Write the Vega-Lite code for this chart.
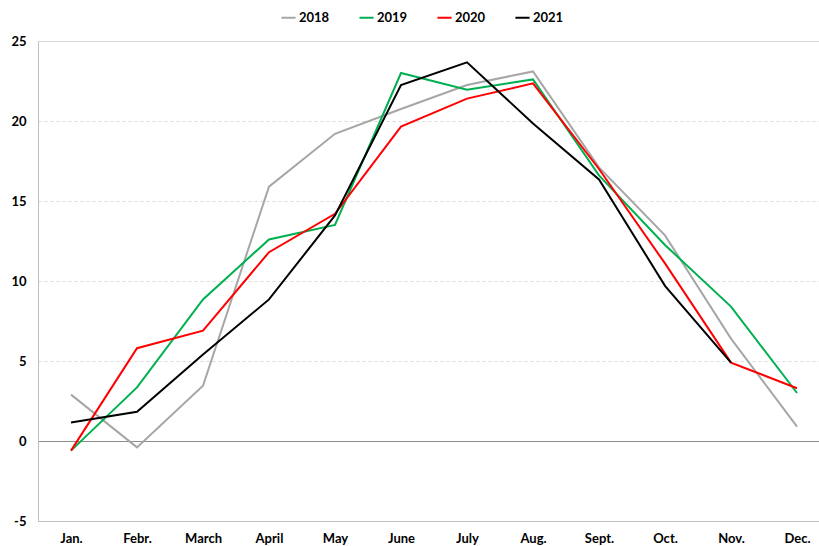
{
  "$schema": "https://vega.github.io/schema/vega-lite/v6.json",
  "autosize": "none",
  "padding": {"left": 38, "top": 41, "right": 0, "bottom": 26},
  "width": 792,
  "height": 480,
  "background": "white",
  "config": {
    "view": {"stroke": null},
    "font": "Lato",
    "axis": {"labelFont": "Lato", "labelFontWeight": "bold", "labelFontSize": 13, "labelColor": "#000000"},
    "legend": {"labelFont": "Lato", "labelFontWeight": "bold", "labelFontSize": 13, "labelColor": "#000000"}
  },
  "data": {
    "values": [
      {"month": "Jan.", "year": "2018", "temp": 2.9},
      {"month": "Febr.", "year": "2018", "temp": -0.4},
      {"month": "March", "year": "2018", "temp": 3.45},
      {"month": "April", "year": "2018", "temp": 15.9},
      {"month": "May", "year": "2018", "temp": 19.2},
      {"month": "June", "year": "2018", "temp": 20.75},
      {"month": "July", "year": "2018", "temp": 22.25},
      {"month": "Aug.", "year": "2018", "temp": 23.1},
      {"month": "Sept.", "year": "2018", "temp": 17.1},
      {"month": "Oct.", "year": "2018", "temp": 12.85},
      {"month": "Nov.", "year": "2018", "temp": 6.4},
      {"month": "Dec.", "year": "2018", "temp": 0.9},
      {"month": "Jan.", "year": "2019", "temp": -0.6},
      {"month": "Febr.", "year": "2019", "temp": 3.35},
      {"month": "March", "year": "2019", "temp": 8.85},
      {"month": "April", "year": "2019", "temp": 12.6},
      {"month": "May", "year": "2019", "temp": 13.5},
      {"month": "June", "year": "2019", "temp": 23.0},
      {"month": "July", "year": "2019", "temp": 21.95},
      {"month": "Aug.", "year": "2019", "temp": 22.6},
      {"month": "Sept.", "year": "2019", "temp": 16.6},
      {"month": "Oct.", "year": "2019", "temp": 12.25},
      {"month": "Nov.", "year": "2019", "temp": 8.4},
      {"month": "Dec.", "year": "2019", "temp": 3.0},
      {"month": "Jan.", "year": "2020", "temp": -0.6},
      {"month": "Febr.", "year": "2020", "temp": 5.8},
      {"month": "March", "year": "2020", "temp": 6.9},
      {"month": "April", "year": "2020", "temp": 11.8},
      {"month": "May", "year": "2020", "temp": 14.2},
      {"month": "June", "year": "2020", "temp": 19.65},
      {"month": "July", "year": "2020", "temp": 21.4},
      {"month": "Aug.", "year": "2020", "temp": 22.35},
      {"month": "Sept.", "year": "2020", "temp": 17.0},
      {"month": "Oct.", "year": "2020", "temp": 11.1},
      {"month": "Nov.", "year": "2020", "temp": 4.9},
      {"month": "Dec.", "year": "2020", "temp": 3.3},
      {"month": "Jan.", "year": "2021", "temp": 1.15},
      {"month": "Febr.", "year": "2021", "temp": 1.83},
      {"month": "March", "year": "2021", "temp": 5.4},
      {"month": "April", "year": "2021", "temp": 8.85},
      {"month": "May", "year": "2021", "temp": 14.1},
      {"month": "June", "year": "2021", "temp": 22.25},
      {"month": "July", "year": "2021", "temp": 23.67},
      {"month": "Aug.", "year": "2021", "temp": 19.85},
      {"month": "Sept.", "year": "2021", "temp": 16.35},
      {"month": "Oct.", "year": "2021", "temp": 9.7},
      {"month": "Nov.", "year": "2021", "temp": 4.9}
    ]
  },
  "mark": {"type": "line", "strokeWidth": 2},
  "encoding": {
    "x": {
      "field": "month",
      "type": "ordinal",
      "sort": ["Jan.", "Febr.", "March", "April", "May", "June", "July", "Aug.", "Sept.", "Oct.", "Nov.", "Dec."],
      "scale": {"type": "point", "padding": 0.5},
      "axis": {"title": null, "labelAngle": 0, "ticks": false, "domain": true, "domainColor": "#BFBFBF", "domainWidth": 1, "labelPadding": 11, "grid": false}
    },
    "y": {
      "field": "temp",
      "type": "quantitative",
      "scale": {"domain": [-5, 25], "nice": false, "zero": false},
      "axis": {
        "title": null,
        "values": [-5, 0, 5, 10, 15, 20, 25],
        "labelExpr": "'' + datum.value",
        "ticks": false,
        "domain": true,
        "domainColor": "#BFBFBF",
        "labelPadding": 12,
        "grid": true,
        "gridColor": {"condition": {"test": "datum.value === 0", "value": "#8C8C8C"}, "value": "#D9D9D9"},
        "gridDash": {"condition": {"test": "datum.value === 0 || datum.value === 25 || datum.value === -5", "value": []}, "value": [3, 3]},
        "gridWidth": 1
      }
    },
    "color": {
      "field": "year",
      "type": "nominal",
      "scale": {"domain": ["2018", "2019", "2020", "2021"], "range": ["#A6A6A6", "#00B050", "#FF0000", "#000000"]},
      "legend": {
        "title": null,
        "orient": "none",
        "direction": "horizontal",
        "legendX": 242,
        "legendY": -32,
        "symbolType": "stroke",
        "symbolStrokeWidth": 2,
        "symbolSize": 200,
        "labelOffset": 2,
        "columnPadding": 25
      }
    }
  }
}
